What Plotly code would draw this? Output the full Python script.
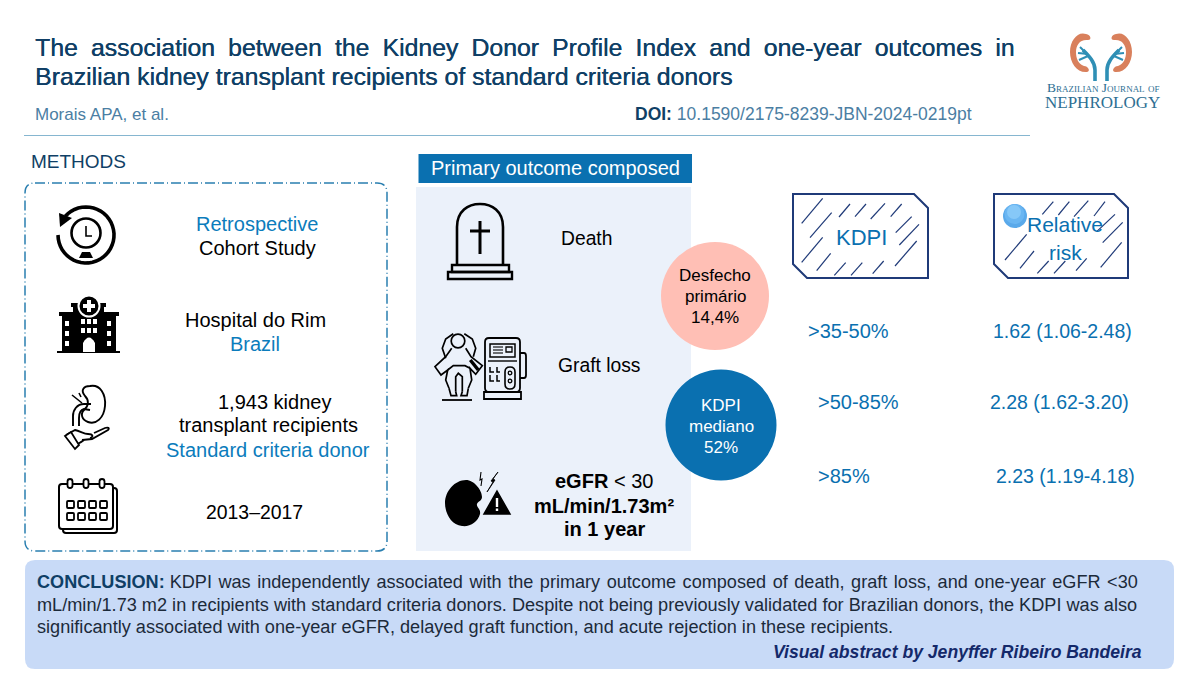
"""Visual abstract: KDPI and one-year outcomes in kidney transplant recipients."""
import math
import plotly.graph_objects as go

FONT = "Liberation Sans"
NAVY = "#0f3f66"
BLUE = "#0a70b0"
LINK = "#0b7cbc"
BOX = "#1f3a78"

title_line_1 = "The association between the Kidney Donor Profile Index and one-year outcomes in"
title_line_2 = "Brazilian kidney transplant recipients of standard criteria donors"
authors = "Morais APA, et al."
doi_label = "DOI:"
doi_value = "10.1590/2175-8239-JBN-2024-0219pt"

kdpi_groups = [">35-50%", ">50-85%", ">85%"]
relative_risks = ["1.62 (1.06-2.48)", "2.28 (1.62-3.20)", "2.23 (1.19-4.18)"]
outcomes = ["Death", "Graft loss"]
primary_outcome = ["Desfecho", "primário", "14,4%"]
median_kdpi = ["KDPI", "mediano", "52%"]

conclusion = [
    "KDPI was independently associated with the primary outcome composed of death, graft loss, and one-year eGFR <30",
    "mL/min/1.73 m2 in recipients with standard criteria donors. Despite not being previously validated for Brazilian donors, the KDPI was also",
    "significantly associated with one-year eGFR, delayed graft function, and acute rejection in these recipients.",
]

kdpi_hatch = [(65, 130, 128, 55), (90, 173, 155, 98), (65, 247, 128, 172), (110, 272, 152, 220),
              (163, 286, 197, 248), (213, 286, 247, 248), (278, 281, 311, 243), (345, 258, 410, 183),
              (358, 195, 417, 133), (347, 158, 395, 110), (332, 110, 365, 72), (272, 117, 315, 70),
              (225, 110, 258, 72), (177, 111, 210, 72)]
risk_hatch = [(675, 240, 740, 163), (720, 265, 762, 213), (772, 280, 806, 243), (822, 280, 856, 243),
              (888, 272, 920, 235), (962, 262, 1025, 187), (968, 188, 1028, 127), (950, 155, 1005, 103),
              (942, 108, 975, 65), (882, 110, 925, 62), (835, 105, 868, 65), (787, 103, 820, 65)]

shapes = []
notes = []


def spread(line, n):
    """Widen word gaps with hair spaces to justify a line."""
    return line.replace(" ", " " + "\u200a" * n)


def text(x, y, s, size=18, color="black", anchor="center", bold=False, italic=False, font=FONT, **extra):
    f = dict(family=font, size=size, color=color)
    if bold:
        f["weight"] = "bold"
    if italic:
        f["style"] = "italic"
    f.update(extra)
    if anchor == "left":
        x -= 1
    notes.append(dict(x=x, y=y, xref="x", yref="y", text=s, showarrow=False, xanchor=anchor,
                      yanchor="middle", font=f, borderpad=0))


def path(d, fill=None, color="black", width=2, dash=None):
    line = dict(color=color, width=width)
    if dash:
        line["dash"] = dash
    if width == 0:
        line = dict(width=0)
    shapes.append(dict(type="path", path=d, xref="x", yref="y", fillcolor=fill or "rgba(0,0,0,0)", line=line))


def rect(x0, y0, x1, y1, fill=None, color="black", width=0):
    shapes.append(dict(type="rect", x0=x0, y0=y0, x1=x1, y1=y1, xref="x", yref="y",
                       fillcolor=fill or "rgba(0,0,0,0)", line=dict(color=color, width=width)))


def circle(cx, cy, r, fill=None, color="black", width=0):
    shapes.append(dict(type="circle", x0=cx - r, y0=cy - r, x1=cx + r, y1=cy + r, xref="x", yref="y",
                       fillcolor=fill or "rgba(0,0,0,0)", line=dict(color=color, width=width)))


def seg(x0, y0, x1, y1, color="black", width=2):
    shapes.append(dict(type="line", x0=x0, y0=y0, x1=x1, y1=y1, xref="x", yref="y",
                       line=dict(color=color, width=width)))


def round_rect(x0, y0, x1, y1, r):
    return (f"M{x0 + r},{y0} L{x1 - r},{y0} Q{x1},{y0} {x1},{y0 + r} L{x1},{y1 - r} Q{x1},{y1} {x1 - r},{y1} "
            f"L{x0 + r},{y1} Q{x0},{y1} {x0},{y1 - r} L{x0},{y0 + r} Q{x0},{y0} {x0 + r},{y0} Z")


def arc(cx, cy, r, a0, a1, n=40):
    pts = []
    for i in range(n + 1):
        a = math.radians(a0 + (a1 - a0) * i / n)
        pts.append((cx + r * math.cos(a), cy + r * math.sin(a)))
    return "M" + " L".join(f"{x:.1f},{y:.1f}" for x, y in pts)


def clock_icon():
    path(arc(86, 235, 28, 222, 540), width=3.6)
    path("M59,213 L72,218 L60,227 Z", fill="black", width=0)
    circle(86, 233, 14.5, width=2.6)
    path("M86,226 L86,236 L92,236", width=1.6)
    path("M79,258 L93,258 L90,252 L82,252 Z", fill="black", width=0)


def hospital_icon():
    rect(62, 314, 116, 352, fill="black")
    rect(73, 305, 104, 352, fill="black")
    rect(59, 312, 74, 316, fill="black")
    rect(103, 312, 119, 316, fill="black")
    rect(71, 303, 106, 307, fill="black")
    rect(57, 351, 120, 353, fill="black")
    circle(89, 306, 11.5, fill="white")
    circle(89, 306, 9.5, fill="black")
    rect(87, 300, 91, 312, fill="white")
    rect(83, 304, 95, 308, fill="white")
    for x in (65, 107):
        for y in (321, 331, 341):
            rect(x, y, x + 4, y + 5, fill="white")
    for x in (81, 87, 93):
        for y in (319, 328):
            rect(x, y, x + 4, y + 5, fill="white")
    path("M83,352 L83,343 Q89,332 95,343 L95,352 Z", fill="white", width=0)


def kidney_icon():
    path("M90,386 C100,384 106,394 105,406 C104,418 96,425 88,422 C82,420 80,414 84,410 "
         "C89,406 89,400 85,396 C80,390 84,386 90,386 Z", width=1.9, fill="white")
    path("M91,404 L84,404 C77,404 73,410 73,416 L73,426", width=1.9)
    path("M90,410 L84,409 C80,410 79,414 79,418 L79,426", width=1.9)
    path("M72,395 L82,403 M79,393 L81,397", width=1.6)
    path("M66,435 L75,430 C80,431 84,434 88,434 C93,434 94,437 90,438", width=1.8)
    path("M82,440 L92,439 L108,430 C110,428 108,427 105,428 L94,433", width=1.8)
    path("M84,440 C79,444 74,445 71,444", width=1.8)
    path("M65,436 L75,449 L79,445 L71,432 Z", width=1.8, fill="white")


def calendar_icon():
    path(round_rect(63, 488, 117, 533, 3), width=2)
    path(round_rect(59, 484, 113, 529, 3), width=2, fill="white")
    for x in (70, 86, 102):
        path(round_rect(x - 2.5, 479, x + 2.5, 488, 2.5), width=1.8, fill="white")
    for x in (67, 78, 89, 100):
        for y in (501, 513):
            path(round_rect(x, y, x + 7, y + 7, 1), width=1.8)


def tomb_icon():
    path("M457,265 L457,227 C457,211 468,204 480,204 C492,204 503,211 503,227 L503,265", width=2.6)
    rect(452, 265, 509, 272, color="black", width=2.4)
    rect(448, 272, 512, 279, color="black", width=2.4)
    seg(480, 221, 480, 254, width=3)
    seg(470, 231, 490, 231, width=3)


def dial(*pts):
    return "M" + " L".join(f"{425 + x / 3:.1f},{325 + y / 3:.1f}" for x, y in pts)


def dialysis_icon():
    # seat back behind the patient
    path(dial((62, 100), (52, 70), (62, 42), (85, 26)), width=1.7)
    path(dial((118, 26), (142, 42), (152, 70), (145, 95)), width=1.7)
    circle(458, 341, 6.8, fill="#ebf1fa", width=1.7)
    # arms and body
    path(dial((80, 70), (62, 95), (30, 125), (48, 150), (68, 135), (62, 165), (72, 190)), width=1.7)
    path(dial((122, 70), (138, 95), (172, 122), (152, 148), (135, 130), (140, 165), (130, 190)), width=1.7)
    path(dial((68, 135), (85, 122), (120, 122), (135, 130)), width=1.7)
    # legs and feet
    path(dial((92, 200), (92, 155), (100, 145), (112, 155), (112, 200)), width=1.7)
    path(dial((72, 190), (78, 212), (95, 212), (92, 200)), width=1.7)
    path(dial((130, 190), (126, 212), (108, 212), (112, 200)), width=1.7)
    path(dial((136, 105), (160, 135)), width=3.5)
    seg(442, 400, 472, 400, width=1.8)
    # machine
    path(round_rect(485, 338, 520, 392, 4), width=1.8, fill="#ebf1fa")
    rect(490, 344, 515, 357, color="black", width=1.5)
    for y in (347, 350, 353):
        seg(493, y, 503, y, width=1.1)
    rect(506, 347, 512, 352, color="black", width=1.3)
    seg(488, 361, 517, 361, width=1.4)
    rect(484, 392, 521, 399, color="black", width=1.8)
    path("M520,353 L524,353 Q526,353 526,356 L526,375 Q526,378 524,378 L520,378", width=1.8)
    path("M490,367 L490,372 L494,372 M490,375 L490,381 L494,381 M497,367 L497,372 L500,372 "
         "M497,375 L497,381 L500,381", width=1.5)
    path(round_rect(505, 367, 515, 389, 5), width=1.6)
    circle(510, 373, 1.8, width=1.3)
    circle(510, 381, 1.8, width=1.3)


def warning_icon():
    path("M466,480 C474,480 482,490 482,497 C482,501 478,501 477,504 C476,507 481,509 480,514 "
         "C478,522 470,527 462,526 C451,525 445,513 445,503 C445,491 455,480 466,480 Z", fill="black", width=0)
    path("M497,491 L510,514 L484,514 Z", fill="black", color="black", width=1.5)
    rect(495.8, 498, 498.2, 507, fill="white")
    rect(495.8, 508.5, 498.2, 511, fill="white")
    path("M498,472 L491,481 L493,482 L487,492 L495,480 L493,479 Z", fill="black", color="black", width=0.8)
    path("M481,472 L480,480 L482,479 L481,486", width=1.1)


def logo():
    orange = "#d9805c"
    teal = "#2f8fb5"
    for m in (1, -1):
        mx = lambda x: 1101 + m * (x - 1101)
        path(f"M{mx(1086)},34 C{mx(1078)},31 {mx(1070)},40 {mx(1070)},52 C{mx(1070)},63 {mx(1077)},73 {mx(1087)},72 "
             f"C{mx(1091)},71 {mx(1088)},66 {mx(1084)},66 C{mx(1078)},64 {mx(1076)},58 {mx(1076)},52 "
             f"C{mx(1076)},45 {mx(1080)},39 {mx(1088)},40 C{mx(1092)},40 {mx(1091)},35 {mx(1086)},34 Z",
             fill=orange, width=0)
        path(f"M{mx(1083)},50 C{mx(1089)},56 {mx(1095)},62 {mx(1095)},70 L{mx(1095)},81", color=teal, width=3.6)
        path(f"M{mx(1080)},47 L{mx(1087)},54 M{mx(1078)},53 L{mx(1088)},54 M{mx(1079)},60 L{mx(1088)},56",
             color=teal, width=2)
    text(1103, 87, "Brazilian Journal of", size=13.5, color="#2e6f93", font="Liberation Serif", variant="small-caps")
    text(1102, 102, "NEPHROLOGY", size=17, color="#2e6f93", font="Liberation Serif")


def hatched_box(x0, x1, hatch):
    y0, y1, c = 194, 278, 14
    path(f"M{x0},{y0} L{x1 - c},{y0} L{x1},{y0 + c} L{x1},{y1} L{x0 + c},{y1} L{x0},{y1 - c} Z", color=BOX, width=2)
    for a, b, d, e in hatch:
        seg(780 + a / 3, 180 + b / 3, 780 + d / 3, 180 + e / 3, color=BOX, width=1.2)


# header
text(35, 47, spread(title_line_1, 3), size=24.8, color=NAVY, anchor="left", shadow=f"0.35px 0 0 {NAVY}")
text(35, 76, title_line_2, size=24.8, color=NAVY, anchor="left", shadow=f"0.35px 0 0 {NAVY}")
text(35, 114, authors, size=17, color="#4b7ea3", anchor="left")
text(635, 114, f"<b>{doi_label}</b> <span style='color:#4b7ea3'>{doi_value}</span>", size=17.5, color=NAVY, anchor="left")
seg(24, 135.5, 1030, 135.5, color="#86b6d0", width=1)
logo()

# methods
text(31, 161, "METHODS", size=19, color=NAVY, anchor="left")
path(round_rect(25, 183, 387, 551, 10), color="#2a7fb0", width=1.5, dash="10px,3px,1px,3px")
clock_icon()
hospital_icon()
kidney_icon()
calendar_icon()
text(257, 224, "Retrospective", size=20, color=LINK)
text(257, 248, "Cohort Study", size=20)
text(255, 320, "Hospital do Rim", size=20)
text(255, 344, "Brazil", size=20, color=LINK)
text(274, 402, "1,943 kidney", size=20)
text(268, 425, "transplant recipients", size=20)
text(268, 450, "Standard criteria donor", size=20, color=LINK)
text(254, 512, "2013–2017", size=19.4)

# primary outcome
rect(416, 187, 691, 551, fill="#ebf1fa")
rect(418.5, 154, 692, 183, fill=BLUE)
text(555, 168, "Primary outcome composed", size=20, color="white")
tomb_icon()
dialysis_icon()
warning_icon()
text(561, 238, outcomes[0], size=19.3, anchor="left")
text(558, 365, outcomes[1], size=19.3, anchor="left")
text(604, 481, "<b>eGFR</b> &lt; 30", size=20)
text(604, 506, "mL/min/1.73m²", size=20, bold=True)
text(604, 529, "in 1 year", size=20, bold=True)
circle(715, 296, 54, fill="#ffbfb5")
circle(721, 425, 55.5, fill=BLUE)
for y, s in zip((275, 296, 317), primary_outcome):
    text(715, y, s, size=17)
for y, s in zip((405, 426, 447), median_kdpi):
    text(721, y, s, size=17, color="white")

# relative risk table
hatched_box(793, 928, kdpi_hatch)
hatched_box(994, 1128, risk_hatch)
text(861, 237, "KDPI", size=22, color=BLUE)
text(1065, 224, "Relative", size=21, color=BLUE)
text(1065, 252, "risk", size=21, color=BLUE)
circle(1015, 216, 12, fill="#5aa9ea")
circle(1014.5, 214, 10, fill="#6ab6f2")
circle(1014, 212, 7, fill="#86c8f8")
for x, y, s in zip((808, 818, 818), (331, 402, 476), kdpi_groups):
    text(x, y, s, size=20, color=BLUE, anchor="left")
for x, y, s in zip((993, 990, 996), (331, 402, 476), relative_risks):
    text(x, y, s, size=19.5, color=BLUE, anchor="left")

# conclusion
path(round_rect(25, 560, 1174, 669, 10), fill="#c8daf7", width=0)
text(37, 582, f"<b style='color:{NAVY}'>CONCLUSION:</b> " + spread(conclusion[0], 1), size=18.1, color="#1c2a3a", anchor="left")
text(37, 605, conclusion[1], size=18.15, color="#1c2a3a", anchor="left")
text(37, 627, conclusion[2], size=18.15, color="#1c2a3a", anchor="left")
text(1143, 652, "Visual abstract by Jenyffer Ribeiro Bandeira", size=17.6, color="#14296a", anchor="right", bold=True, italic=True)

fig = go.Figure()
fig.update_layout(
    width=1200, height=675, margin=dict(l=0, r=0, t=0, b=0), showlegend=False,
    paper_bgcolor="white", plot_bgcolor="white", shapes=shapes, annotations=notes,
    xaxis=dict(range=[0, 1200], visible=False, fixedrange=True),
    yaxis=dict(range=[675, 0], visible=False, fixedrange=True),
)
fig.write_html("out.html", config=dict(displayModeBar=False),
               post_script="document.body.style.margin='0';")
